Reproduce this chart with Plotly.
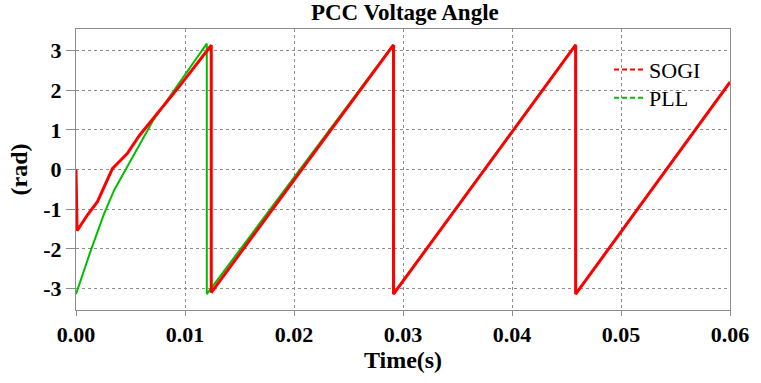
import plotly.graph_objects as go

# ---- data ----
sogi_t = [0, 0.0001, 0.0003, 0.00106, 0.00197, 0.00274, 0.00334, 0.0038, 0.0047,
          0.0058, 0.0077, 0.0095, 0.01241, 0.01241, 0.02913, 0.02913, 0.04584, 0.04584, 0.06]
sogi_v = [0, -1.54, -1.46, -1.14, -0.81, -0.35, 0.02, 0.15, 0.40,
          0.85, 1.50, 2.10, 3.13, -3.10, 3.14, -3.14, 3.14, -3.14, 2.20]

pll_t = [0, 0.00137, 0.00258, 0.0035, 0.0047, 0.00608, 0.00708, 0.00921, 0.0120,
         0.0120, 0.0291, 0.0291, 0.04584, 0.04584, 0.06]
pll_v = [-3.14, -2.03, -1.11, -0.52, 0.07, 0.74, 1.24, 2.08, 3.17,
         -3.14, 3.14, -3.14, 3.14, -3.14, 2.20]

x_ticks = [0, 0.01, 0.02, 0.03, 0.04, 0.05, 0.06]
y_ticks = [-3, -2, -1, 0, 1, 2, 3]
y_tick_text = ["-3", "-2", "-1", "0", "1", "2", "3"]

RED = "#FF0000"
GREEN = "#00BF00"
FONT = "Liberation Serif"

fig = go.Figure()
fig.add_trace(go.Scatter(x=pll_t, y=pll_v, mode="lines", showlegend=False,
                         line=dict(color=GREEN, width=2)))
fig.add_trace(go.Scatter(x=sogi_t, y=sogi_v, mode="lines", showlegend=False,
                         line=dict(color=RED, width=3)))
# legend entries (dashed symbols), each in its own legend box for exact spacing
fig.add_trace(go.Scatter(x=[None], y=[None], mode="lines", name="SOGI", legend="legend",
                         line=dict(color=RED, width=2, dash="5px,3px")))
fig.add_trace(go.Scatter(x=[None], y=[None], mode="lines", name="PLL", legend="legend2",
                         line=dict(color=GREEN, width=2, dash="5px,3px")))

axis_common = dict(
    showline=True, linecolor="#8c8c8c", linewidth=1, mirror=True,
    showgrid=True, gridcolor="#8c8c8c", gridwidth=1, griddash="dot",
    zeroline=False, ticks="outside", tickcolor="#8c8c8c",
    tickfont=dict(family=FONT, size=22, color="black", weight="bold"),
)

legend_common = dict(xanchor="left", yanchor="middle",
                     bgcolor="rgba(0,0,0,0)", borderwidth=0,
                     font=dict(family=FONT, size=22, color="black"))

fig.update_layout(
    width=761, height=383,
    margin=dict(l=76, r=27, t=29, b=73),
    paper_bgcolor="white", plot_bgcolor="white",
    title=dict(text="PCC Voltage Angle", x=0.532, xanchor="center", y=0.99, yanchor="top",
               font=dict(family=FONT, size=23, color="black", weight="bold")),
    xaxis=dict(range=[0, 0.06], tickvals=x_ticks, tickformat=".2f", ticklen=5,
               title=dict(text="Time(s)", standoff=2,
                          font=dict(family=FONT, size=24, color="black", weight="bold")),
               **axis_common),
    yaxis=dict(range=[-3.54, 3.54], tickvals=y_ticks, ticktext=y_tick_text, ticklen=9,
               title=dict(text="(rad)", standoff=8,
                          font=dict(family=FONT, size=24, color="black", weight="bold")),
               **axis_common),
    legend=dict(x=0.815, y=0.855, **legend_common),
    legend2=dict(x=0.815, y=0.755, **legend_common),
    showlegend=True,
)

fig.write_html("out.html")
